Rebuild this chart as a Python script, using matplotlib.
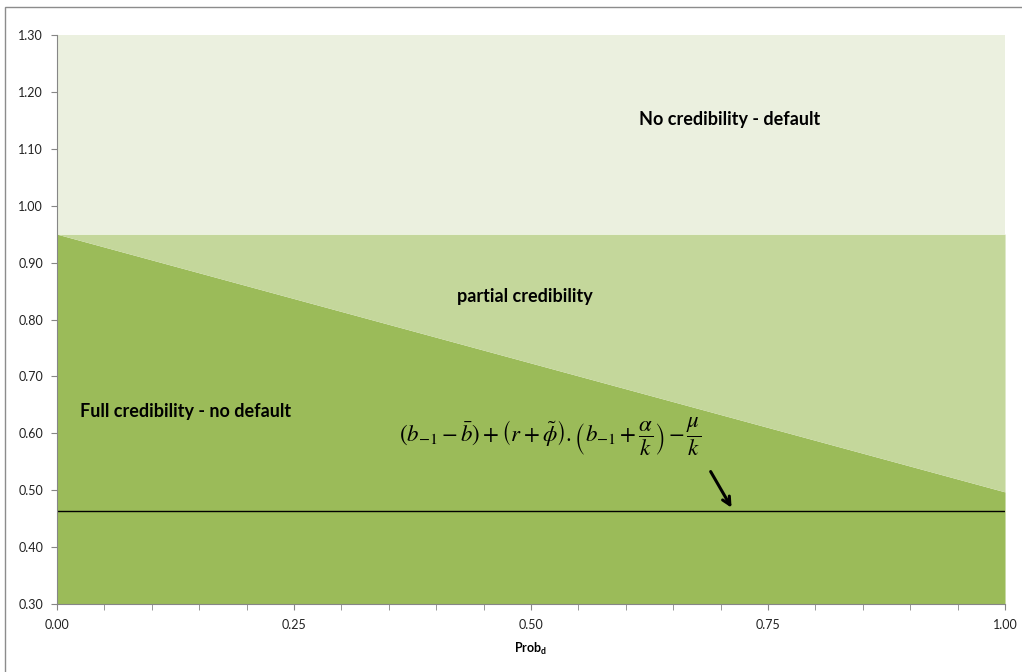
import matplotlib.pyplot as plt
import matplotlib.patches as patches
import numpy as np

plt.rcParams['font.family'] = ['Lato', 'DejaVu Sans']
plt.rcParams['mathtext.fontset'] = 'custom'
plt.rcParams['mathtext.rm'] = 'Lato'
plt.rcParams['mathtext.bf'] = 'Lato:bold'

# Data
prob_d = [0.0, 1.0]
full_cred_bound = [0.95, 0.497]   # full / partial credibility boundary
no_cred_bound = [0.95, 0.95]      # partial / no credibility boundary
default_level = 0.463             # horizontal line
y_min, y_max = 0.30, 1.30

c_light = '#EBF0DF'
c_mid = '#C4D79B'
c_dark = '#9BBB59'

fig = plt.figure(figsize=(10.22, 6.72), dpi=100)
ax = fig.add_axes([0.0558, 0.1012, 0.9276, 0.8467])

# outer chart frame
fig.patches.append(patches.Rectangle((0.005, -0.1), 1.2, 1.09, transform=fig.transFigure,
                                     fill=False, edgecolor='#8C8C8C', linewidth=1.0))

ax.fill_between(prob_d, y_min, full_cred_bound, color=c_dark, linewidth=0)
ax.fill_between(prob_d, full_cred_bound, no_cred_bound, color=c_mid, linewidth=0)
ax.fill_between(prob_d, no_cred_bound, y_max, color=c_light, linewidth=0)
ax.axhline(default_level, color='black', linewidth=1.0)

ax.set_xlim(0, 1)
ax.set_ylim(y_min, y_max)
ax.set_xticks(np.arange(0, 1.01, 0.25))
ax.set_xticks(np.arange(0, 1.01, 0.05), minor=True)
ax.set_yticks(np.arange(0.3, 1.31, 0.1))
ax.set_xticklabels([f'{v:.2f}' for v in np.arange(0, 1.01, 0.25)])
ax.set_yticklabels([f'{v:.2f}' for v in np.arange(0.3, 1.31, 0.1)])
ax.tick_params(axis='both', which='both', direction='out', color='#868686', labelsize=9,
               labelcolor='#222222')
ax.tick_params(axis='both', which='major', length=4)
ax.tick_params(axis='x', which='minor', length=4)
ax.tick_params(axis='x', pad=7)
ax.tick_params(axis='y', pad=6)
for s in ['top', 'right']:
    ax.spines[s].set_visible(False)
for s in ['left', 'bottom']:
    ax.spines[s].set_color('#868686')

ax.set_xlabel(r'Prob$_\mathbf{d}$', fontsize=9, fontweight='bold', labelpad=7)

ax.text(0.71, 1.152, 'No credibility - default', fontsize=13, fontweight='bold',
        ha='center', va='center')
ax.text(0.494, 0.841, 'partial credibility', fontsize=13, fontweight='bold',
        ha='center', va='center')
ax.text(0.024, 0.639, 'Full credibility - no default', fontsize=13, fontweight='bold',
        ha='left', va='center')
ax.text(0.52, 0.593,
        r'$\left(b_{-1}-\bar{b}\right)+\left(r+\tilde{\phi}\right).\left(b_{-1}+\dfrac{\alpha}{k}\right)-\dfrac{\mu}{k}$',
        fontsize=16.5, ha='center', va='center', math_fontfamily='stix')
ax.annotate('', xy=(0.713, 0.465), xytext=(0.688, 0.537),
            arrowprops=dict(arrowstyle='->', color='black', lw=2.2, mutation_scale=14))

fig.savefig('out.png', dpi=100)
